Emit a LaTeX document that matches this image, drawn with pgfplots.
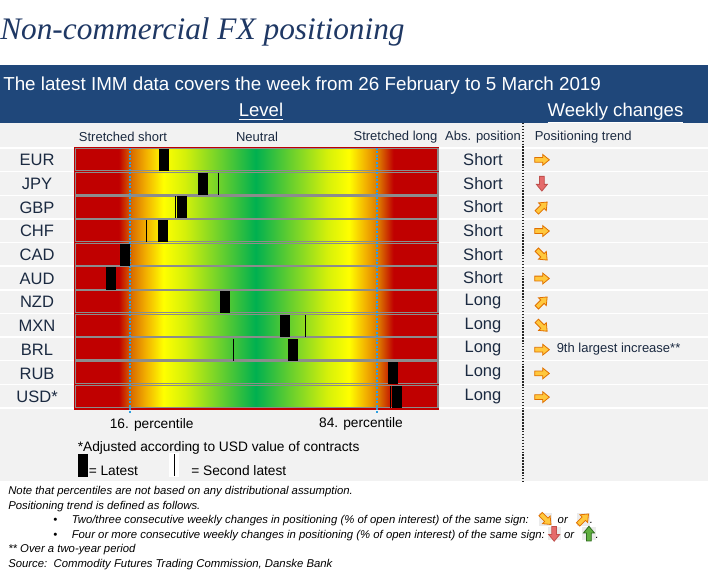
\documentclass[border=0pt]{standalone}
\usepackage{fontspec}
\setmainfont{Liberation Sans}
\newfontfamily\titlefont{Liberation Serif}
\usepackage{pgfplots}
\pgfplotsset{compat=1.18}

\definecolor{fxred}{HTML}{C00000}
\definecolor{fxdo}{HTML}{DA7000}
\definecolor{fxor}{HTML}{F2B000}
\definecolor{fxyel}{HTML}{FFFF00}
\definecolor{fxyg}{HTML}{D4F00A}
\definecolor{fxgreen}{HTML}{00B050}
\definecolor{titleblue}{HTML}{1F3864}
\definecolor{bannerblue}{HTML}{1F477A}
\definecolor{bggray}{HTML}{F2F2F2}
\definecolor{labeltext}{HTML}{1B2A41}
\definecolor{rowgray}{HTML}{8C8C8C}
\definecolor{pctblue}{HTML}{2E9FE0}
\definecolor{arrO}{HTML}{E07000}
\definecolor{arrY}{HTML}{FFC83D}
\definecolor{arrRF}{HTML}{E56B6B}
\definecolor{arrRO}{HTML}{C0504D}
\definecolor{arrGF}{HTML}{5FAF3F}
\definecolor{arrGO}{HTML}{2F6B1F}

\pgfdeclarehorizontalshading{fxgrad}{100bp}{color(0bp)=(fxred); color(31.1bp)=(fxred); color(32.9bp)=(fxdo); color(34.8bp)=(fxor); color(37.2bp)=(fxyel); color(40.2bp)=(fxyg); color(49.9bp)=(fxgreen); color(59.7bp)=(fxyg); color(62.7bp)=(fxyel); color(65bp)=(fxor); color(66.9bp)=(fxdo); color(68.8bp)=(fxred); color(100bp)=(fxred)}

\newcommand{\arrowpath}{%
 \pgfpathmoveto{\pgfqpoint{-5.4pt}{-1.8pt}}%
 \pgfpathlineto{\pgfqpoint{0.6pt}{-1.8pt}}%
 \pgfpathlineto{\pgfqpoint{0.6pt}{-4.1pt}}%
 \pgfpathlineto{\pgfqpoint{5.6pt}{0pt}}%
 \pgfpathlineto{\pgfqpoint{0.6pt}{4.1pt}}%
 \pgfpathlineto{\pgfqpoint{0.6pt}{1.8pt}}%
 \pgfpathlineto{\pgfqpoint{-5.4pt}{1.8pt}}%
 \pgfpathclose}
\pgfdeclareplotmark{arrR}{\pgfsetlinewidth{0.6pt}\pgfsetfillcolor{arrY}\pgfsetstrokecolor{arrO}\arrowpath\pgfusepathqfillstroke}
\pgfdeclareplotmark{arrUR}{\pgfsetlinewidth{0.6pt}\pgfsetfillcolor{arrY}\pgfsetstrokecolor{arrO}\pgftransformrotate{45}\arrowpath\pgfusepathqfillstroke}
\pgfdeclareplotmark{arrDR}{\pgfsetlinewidth{0.6pt}\pgfsetfillcolor{arrY}\pgfsetstrokecolor{arrO}\pgftransformrotate{-45}\arrowpath\pgfusepathqfillstroke}
\pgfdeclareplotmark{arrD}{\pgfsetlinewidth{0.6pt}\pgfsetfillcolor{arrRF}\pgfsetstrokecolor{arrRO}\pgftransformrotate{-90}\arrowpath\pgfusepathqfillstroke}
\pgfdeclareplotmark{arrU}{\pgfsetlinewidth{0.6pt}\pgfsetfillcolor{arrGF}\pgfsetstrokecolor{arrGO}\pgftransformrotate{90}\arrowpath\pgfusepathqfillstroke}
\pgfdeclareplotmark{latest}{\pgfsetfillcolor{black}\pgfpathrectangle{\pgfqpoint{-3.75pt}{-8.3pt}}{\pgfqpoint{7.5pt}{16.6pt}}\pgfusepathqfill}

\newcommand{\fnarrow}[1]{\tikz[baseline={(0pt,-3.2pt)}]{\fill[black!8] (-5pt,-5pt) rectangle (5pt,5pt);\pgfuseplotmark{#1}}}

\newcommand{\hdr}{\fontsize{9.75}{11}\selectfont}
\newcommand{\rowf}{\fontsize{12.4}{14}\selectfont}
\newcommand{\leg}{\fontsize{10.3}{12}\selectfont}
\newcommand{\fn}{\itshape\fontsize{8.5}{10}\selectfont}

\pgfplotstableread{
x y
25.3 0
36.1 1
30.3 2
25.1 3
14.7 4
10.7 5
42.1 6
58.6 7
60.8 8
88.3 9
89.4 10
}\latestdata
\pgfplotstableread{
x y
40.3 1
28.5 2
20.5 3
64.2 7
44.4 8
87.6 10
}\seconddata

\begin{document}
\begin{tikzpicture}[x=0.75pt,y=-0.75pt]
\useasboundingbox (0,0) rectangle (722,585);
\fill[white] (0,0) rectangle (722,585);
% title
\node[anchor=base west, inner sep=0, text=titleblue, font=\titlefont\itshape\fontsize{23.5}{28}\selectfont] at (0,40) {Non-commercial FX positioning};
% banner
\fill[bannerblue] (0,65) rectangle (708,123);
\node[anchor=base west, inner sep=0, text=white, font=\fontsize{14.1}{17}\selectfont] at (3,90.5) {The latest IMM data covers the week from 26 February to 5 March 2019};
\node[anchor=base, inner sep=0, text=white, font=\fontsize{13.9}{17}\selectfont] at (261,117) {\underline{Level}};
\node[anchor=base, inner sep=0, text=white, font=\fontsize{13.9}{17}\selectfont] at (615.5,117) {\underline{Weekly changes}};
% gray background
\fill[bggray] (0,123) rectangle (708,481);
\foreach \i in {0,...,11} \draw[white, line width=1.1pt] (0,{148+\i*23.636}) -- (708,{148+\i*23.636});
\draw[black!85, line width=1.4pt, dash pattern=on 1.1pt off 1.1pt] (523,123) -- (523,481);
% headers
\node[font=\hdr, text=labeltext] at (123,137) {Stretched short};
\node[font=\hdr, text=labeltext] at (257,137) {Neutral};
\node[font=\hdr, text=labeltext] at (395.5,137) {Stretched long};
\node[font=\hdr, text=labeltext] at (483,137) {Abs. position};
\node[font=\hdr, text=labeltext, anchor=west, inner sep=0] at (534.5,137) {Positioning trend};
% gradient bar
\shade[shading=fxgrad] (74.5,148) rectangle (438.5,409);
\draw[fxred, line width=0.9pt] (74.5,148) rectangle (438.5,409);
\foreach \i in {0,...,10} \draw[rowgray, line width=0.8pt] (75.8,{148.7+\i*23.636}) rectangle (438,{147.3+(\i+1)*23.636});
\coordinate (axnw) at (74.5,148);
% axis with positions
\begin{axis}[
 at={(axnw)}, anchor=north west,
 width=273pt, height=195.75pt, scale only axis,
 xmin=0.8, xmax=100.8, ymin=-0.5, ymax=10.5, y dir=reverse,
 axis line style={draw=none}, xtick=\empty,
 ytick={0,...,10}, yticklabels={EUR,JPY,GBP,CHF,CAD,AUD,NZD,MXN,BRL,RUB,USD*},
 major tick length=0pt,
 yticklabel style={anchor=center, xshift=-28.1pt, font=\rowf, text=labeltext},
 clip=false,
]
\addplot[only marks, mark=latest] table[x=x,y=y] {\latestdata};
\addplot[only marks, mark=|, mark size=8.3pt, mark options={line width=0.75pt, black}] table[x=x,y=y] {\seconddata};
\draw[pctblue, line width=1.5pt, dash pattern=on 1.5pt off 1.1pt] (axis cs:16,-0.5) -- (axis cs:16,10.65);
\draw[pctblue, line width=1.5pt, dash pattern=on 1.5pt off 1.1pt] (axis cs:84,-0.5) -- (axis cs:84,10.65);
\addplot[only marks, mark=arrR] coordinates {(129.2,0) (129.2,3) (129.2,5) (129.2,8) (129.2,9) (129.2,10)};
\addplot[only marks, mark=arrD] coordinates {(129.2,1)};
\addplot[only marks, mark=arrUR] coordinates {(129.2,2) (129.2,6)};
\addplot[only marks, mark=arrDR] coordinates {(129.2,4) (129.2,7)};
\end{axis}
% abs position
\foreach \i/\t in {0/Short,1/Short,2/Short,3/Short,4/Short,5/Short,6/Long,7/Long,8/Long,9/Long,10/Long}
 \node[font=\rowf, text=labeltext] at (483,{148+(\i+0.5)*23.636}) {\t};
\node[font=\hdr, text=labeltext, anchor=west, inner sep=0] at (556.5,{148+8.5*23.636}) {9th largest increase**};
% legend area
\node[font=\leg, text=black] at (151.7,425) {16. percentile};
\node[font=\leg, text=black] at (361,424) {84. percentile};
\node[font=\leg, text=black, anchor=base west, inner sep=0] at (77.5,451.5) {*Adjusted according to USD value of contracts};
\fill[black] (78,453.5) rectangle (88,477);
\node[font=\leg, text=black, anchor=base west, inner sep=0] at (88.5,475) {= Latest};
\fill[white] (169,453) rectangle (179,477);
\draw[black, line width=0.75pt] (174,454) -- (174,476);
\node[font=\leg, text=black, anchor=base west, inner sep=0] at (191,475) {= Second latest};
% footnotes
\node[font=\fn, anchor=base west, inner sep=0] at (8,494) {Note that percentiles are not based on any distributional assumption.};
\node[font=\fn, anchor=base west, inner sep=0] at (8,509) {Positioning trend is defined as follows.};
\node[font=\fn, anchor=base west, inner sep=0] at (53,523.5) {\textbullet};
\node[font=\fn, anchor=base west, inner sep=0] at (71.5,523.5) {Two/three consecutive weekly changes in positioning (\% of open interest) of the same sign:\hspace{7.5pt}\fnarrow{arrDR}\hspace{4pt}or\hspace{6.5pt}\fnarrow{arrUR}.};
\node[font=\fn, anchor=base west, inner sep=0] at (53,538) {\textbullet};
\node[font=\fn, anchor=base west, inner sep=0] at (71.5,538) {Four or more consecutive weekly changes in positioning (\% of open interest) of the same sign:\hspace{2pt}\fnarrow{arrD}\hspace{2.5pt}or\hspace{6pt}\fnarrow{arrU}.};
\node[font=\fn, anchor=base west, inner sep=0] at (8,552.5) {** Over a two-year period};
\node[font=\fn, anchor=base west, inner sep=0] at (8,567) {Source:\ \ Commodity Futures Trading Commission, Danske Bank};
\end{tikzpicture}
\end{document}
